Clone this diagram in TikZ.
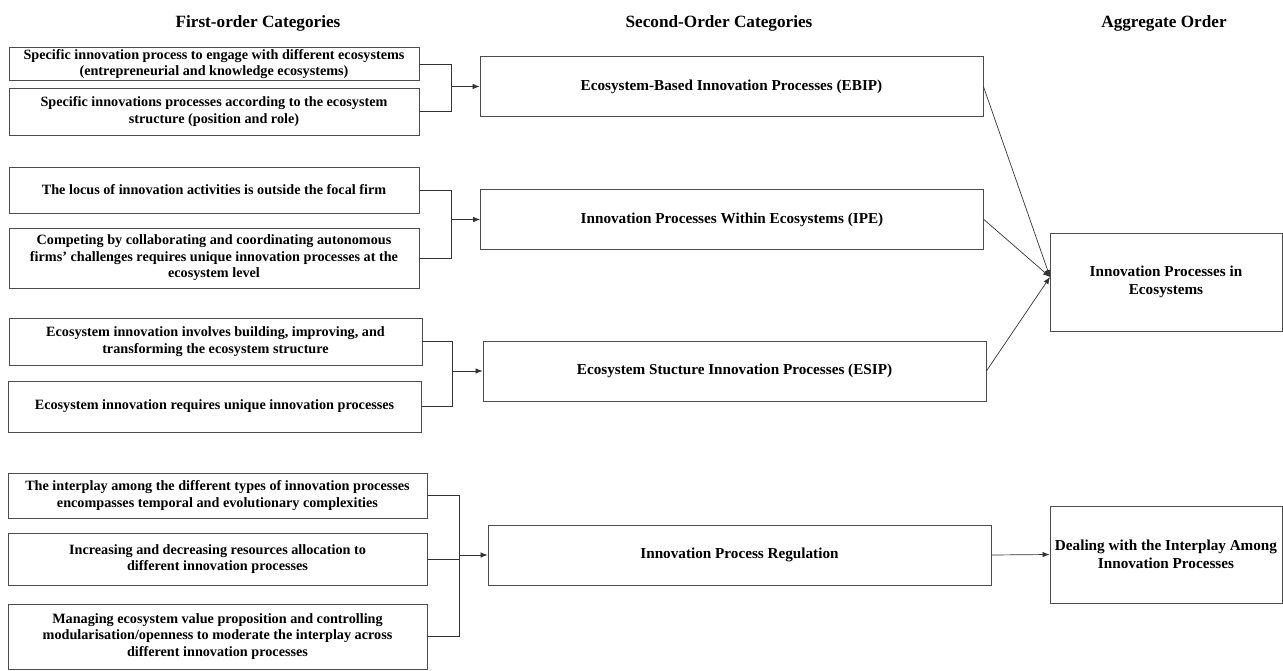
\documentclass[tikz,border=0pt]{standalone}
\usepackage{fontspec}
\setmainfont{Liberation Serif}
\usetikzlibrary{calc,arrows.meta}

\begin{document}
\begin{tikzpicture}[x=1pt,y=-1pt,
  box/.style={draw=black!70,line width=.8pt,align=center,inner sep=2pt},
  fbox/.style={box,minimum width=#1,font=\bfseries\fontsize{14.2}{16.5}\selectfont},
  sbox/.style={box,minimum width=503pt,minimum height=60pt,
    font=\bfseries\fontsize{15.2}{18}\selectfont},
  abox/.style={box,minimum width=232pt,minimum height=98pt,
    font=\bfseries\fontsize{15.2}{18}\selectfont},
  head/.style={font=\bfseries\fontsize{17.2}{20}\selectfont},
  link/.style={draw=black!80,line width=.7pt},
  arr/.style={link,-{Latex[length=7pt,width=5.5pt]}}]
\useasboundingbox (0,0) rectangle (1283,670);
% column headers
\node[head] (h1) at (258,23) {First-order Categories};
\node[head] (h2) at (719,23) {Second-Order Categories};
\node[head] (h3) at (1164,23) {Aggregate Order};
% first-order categories
\node[fbox=410pt,minimum height=32pt] (f1) at (214,64)
  {Specific innovation process to engage with different ecosystems\\(entrepreneurial and knowledge ecosystems)};
\node[fbox=410pt,minimum height=47pt] (f2) at (214,111.5)
  {Specific innovations processes according to the ecosystem\\structure (position and role)};
\node[fbox=410pt,minimum height=46pt] (f3) at (214,190)
  {The locus of innovation activities is outside the focal firm};
\node[fbox=410pt,minimum height=60pt] (f4) at (214,258)
  {Competing by collaborating and coordinating autonomous\\firms' challenges requires unique innovation processes at the\\ecosystem level};
\node[fbox=413pt,minimum height=47pt] (f5) at (215.5,341.5)
  {Ecosystem innovation involves building, improving, and\\transforming the ecosystem structure};
\node[fbox=413pt,minimum height=51pt] (f6) at (214.5,406.5)
  {Ecosystem innovation requires unique innovation processes};
\node[fbox=419pt,minimum height=45pt] (f7) at (217.5,495.5)
  {The interplay among the different types of innovation processes\\encompasses temporal and evolutionary complexities};
\node[fbox=419pt,minimum height=52pt] (f8) at (217.5,559)
  {Increasing and decreasing resources allocation to\\different innovation processes};
\node[fbox=419pt,minimum height=65pt] (f9) at (217.5,636.5)
  {Managing ecosystem value proposition and controlling\\modularisation/openness to moderate the interplay across\\different innovation processes};
% second-order categories
\node[sbox] (ebip) at (731.5,86.5) {Ecosystem-Based Innovation Processes (EBIP)};
\node[sbox] (ipe) at (732,219.5) {Innovation Processes Within Ecosystems (IPE)};
\node[sbox] (esip) at (734.5,371) {Ecosystem Stucture Innovation Processes (ESIP)};
\node[sbox] (ipr) at (739.5,555) {Innovation Process Regulation};
% aggregate order
\node[abox] (ipie) at (1166,282) {Innovation Processes in\\Ecosystems};
\node[abox,minimum height=97pt] (deal) at (1166,554.5) {Dealing with the Interplay Among\\Innovation Processes};
% brackets
\coordinate (b1) at (451,0);
\coordinate (b2) at (451,0);
\coordinate (b3) at (452,0);
\coordinate (b4) at (459,0);
\draw[link] (f1.east) -| (b1 |- f2.east) -- (f2.east);
\draw[arr] (b1 |- ebip.west) -- (ebip.west);
\draw[link] (f3.east) -| (b2 |- f4.east) -- (f4.east);
\draw[arr] (b2 |- ipe.west) -- (ipe.west);
\draw[link] (f5.east) -| (b3 |- f6.east) -- (f6.east);
\draw[arr] (b3 |- esip.west) -- (esip.west);
\draw[link] (f7.east) -| (b4 |- f9.east) -- (f9.east);
\draw[link] (f8.east) -- (b4 |- f8.east);
\draw[arr] (b4 |- ipr.west) -- (ipr.west);
% to aggregate order
\coordinate (conv) at (1050,277);
\draw[arr] (ebip.east) -- (conv);
\draw[arr] (ipe.east) -- (conv);
\draw[arr] (esip.east) -- (conv);
\draw[arr] (ipr.east) -- (deal.west);
\end{tikzpicture}
\end{document}
